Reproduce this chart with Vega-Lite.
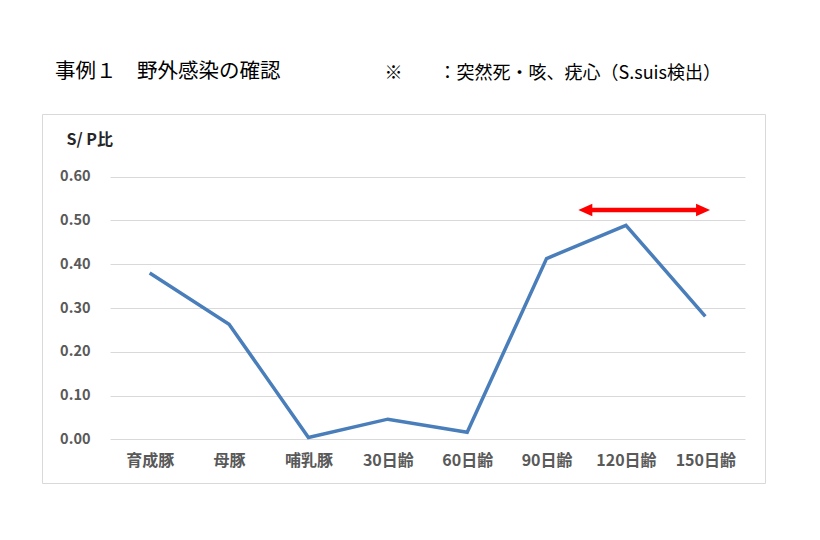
{
  "$schema": "https://vega.github.io/schema/vega-lite/v6.json",
  "description": "事例1 野外感染の確認 S/P比",
  "width": 723,
  "height": 369,
  "autosize": "none",
  "padding": {"left": 42, "top": 114, "right": 55, "bottom": 57},
  "background": "white",
  "title": {
    "text": "事例１　野外感染の確認",
    "anchor": "start",
    "frame": "group",
    "dx": 13,
    "offset": -28,
    "baseline": "middle",
    "fontSize": 20.5,
    "fontWeight": "normal",
    "color": "#000000",
    "font": "Noto Sans CJK JP"
  },
  "datasets": {
    "sp": [
      {"pos": 0, "stage": "育成豚", "sp": 0.38},
      {"pos": 1, "stage": "母豚", "sp": 0.263},
      {"pos": 2, "stage": "哺乳豚", "sp": 0.004},
      {"pos": 3, "stage": "30日齢", "sp": 0.046},
      {"pos": 4, "stage": "60日齢", "sp": 0.016},
      {"pos": 5, "stage": "90日齢", "sp": 0.413},
      {"pos": 6, "stage": "120日齢", "sp": 0.489},
      {"pos": 7, "stage": "150日齢", "sp": 0.281}
    ],
    "arrowShaft": [{"from": 5.55, "to": 6.91, "level": 0.524}],
    "arrowHeads": [
      {"tip": 5.4, "side": "left", "level": 0.524},
      {"tip": 7.06, "side": "right", "level": 0.524}
    ]
  },
  "layer": [
    {
      "data": {"name": "sp"},
      "mark": {"type": "line", "color": "#4a7ebb", "strokeWidth": 3.5},
      "encoding": {
        "x": {
          "field": "pos",
          "type": "quantitative",
          "scale": {"domain": [-0.5, 7.5], "range": [68, 703], "nice": false, "zero": false},
          "axis": {
            "orient": "bottom",
            "offset": -44,
            "values": [0, 1, 2, 3, 4, 5, 6, 7],
            "labelExpr": "['育成豚','母豚','哺乳豚','30日齢','60日齢','90日齢','120日齢','150日齢'][datum.value]",
            "title": null,
            "domain": false,
            "ticks": false,
            "tickSize": 0,
            "grid": false,
            "labelPadding": 21,
            "labelBaseline": "middle",
            "labelAngle": 0,
            "labelFlush": false,
            "labelOverlap": false,
            "labelFontSize": 16,
            "labelFontWeight": "bold",
            "labelColor": "#595959"
          }
        },
        "y": {
          "field": "sp",
          "type": "quantitative",
          "title": "S/ P比",
          "scale": {"domain": [0, 0.6], "range": [325.3, 62.7], "nice": false},
          "axis": {
            "orient": "left",
            "offset": -68,
            "values": [0, 0.1, 0.2, 0.3, 0.4, 0.5, 0.6],
            "format": ".2f",
            "domain": false,
            "ticks": false,
            "tickSize": 0,
            "labelPadding": 20,
            "labelFontSize": 14.5,
            "labelFontWeight": "bold",
            "labelColor": "#595959",
            "grid": true,
            "gridColor": "#d9d9d9",
            "gridWidth": 1,
            "titleAngle": 0,
            "titleAlign": "left",
            "titleBaseline": "middle",
            "titleX": -44,
            "titleY": 25,
            "titleFontSize": 16,
            "titleFontWeight": "bold",
            "titleColor": "#262626"
          }
        }
      }
    },
    {
      "data": {"name": "arrowShaft"},
      "mark": {"type": "rule", "color": "#ff0000", "strokeWidth": 4.5},
      "encoding": {
        "x": {
          "field": "from",
          "type": "quantitative",
          "axis": {
            "orient": "top",
            "labels": false,
            "ticks": false,
            "domain": false,
            "grid": false,
            "title": "※　　：突然死・咳、疣心（S.suis検出）",
            "titleX": 342,
            "titleY": -41,
            "titleAlign": "left",
            "titleBaseline": "middle",
            "titleAngle": 0,
            "titleFontSize": 18,
            "titleFontWeight": "normal",
            "titleColor": "#000000"
          }
        },
        "x2": {"field": "to"},
        "y": {"field": "level", "type": "quantitative", "title": "S/ P比"}
      }
    },
    {
      "data": {"name": "arrowHeads"},
      "mark": {"type": "point", "filled": true, "color": "#ff0000", "opacity": 1, "size": 196, "strokeWidth": 0},
      "encoding": {
        "x": {"field": "tip", "type": "quantitative", "axis": null},
        "y": {"field": "level", "type": "quantitative", "title": "S/ P比"},
        "shape": {
          "field": "side",
          "type": "nominal",
          "scale": {
            "domain": ["left", "right"],
            "range": ["M0,0L2,-0.9L2,0.9Z", "M0,0L-2,-0.9L-2,0.9Z"]
          },
          "legend": null
        }
      }
    }
  ],
  "resolve": {"axis": {"x": "independent"}},
  "config": {
    "font": "Noto Sans CJK JP",
    "view": {"stroke": "#d9d9d9", "strokeWidth": 1}
  }
}
